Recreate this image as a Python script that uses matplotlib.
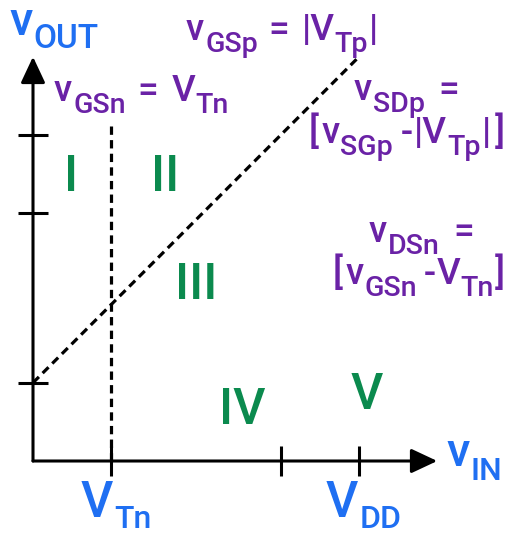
import matplotlib
matplotlib.use("Agg")
import matplotlib.pyplot as plt
from matplotlib.transforms import IdentityTransform

# ---- data (conceptual voltages) ----
VTn = 1.2
VTp = 1.2
VDD = 5.0
x_ticks = [VTn, 3.8, VDD]
y_ticks = [VTp, 3.8, VDD]
axis_end = 6.2
vline_top = 5.2
diag_x = [0.0, VDD]
diag_y = [VTp, VDD + VTp]
regions = ["I", "II", "III", "IV", "V"]

BLUE = "#1f6ff2"
PURPLE = "#6a22a6"
GREEN = "#0b8a4e"
FONT = "Roboto"

W, H = 506, 533
fig = plt.figure(figsize=(W / 100, H / 100), dpi=100)
ax = fig.add_axes([0, 0, 1, 1])
ox, oy, s = 33, 461, 65.2
ax.set_xlim(-ox / s, (W - ox) / s)
ax.set_ylim(-(H - oy) / s, oy / s)
ax.axis("off")
plt.rcParams["lines.scale_dashes"] = False

lw = 2.2
# axes with arrows
for end in [(axis_end, 0), (0, axis_end)]:
    ax.annotate("", xy=end, xytext=(0, 0),
                arrowprops=dict(arrowstyle="-|>,head_length=1.6,head_width=0.75",
                                lw=lw, color="black", shrinkA=0, shrinkB=0,
                                mutation_scale=10))
tl = 0.23
ax.vlines(x_ticks, -tl, tl, color="black", lw=lw)
ax.hlines(y_ticks, -tl, tl, color="black", lw=lw)

# dashed lines
ax.plot([VTn, VTn], [0, vline_top], color="black", lw=2.3, dashes=(6, 3.8))
ax.plot(diag_x, diag_y, color="black", lw=2.3, dashes=(6, 3.8))

renderer = fig.canvas.get_renderer()


def rich(x, y, parts, color, weight="medium"):
    cx = x
    for txt, size, dy, gap in parts:
        cx += gap
        t = fig.text(cx, H - (y + dy), txt, transform=IdentityTransform(),
                     fontsize=size, color=color, va="baseline", ha="left",
                     family=FONT, fontweight=weight)
        cx += t.get_window_extent(renderer).width


M, S, D = 26.5, 20.5, 12  # purple main size, sub size, sub drop

rich(9, 35, [("v", 34, 0, 0), ("OUT", 24, 13, 1)], BLUE)
rich(446, 466, [("v", 34, 0, 0), ("IN", 23, 14, 1)], BLUE)
rich(81, 517, [("V", 36, 0, 0), ("Tn", 23, 11, 1)], BLUE)
rich(326, 517, [("V", 36, 0, 0), ("DD", 23, 11, 1)], BLUE)

rich(186, 40, [("v", M, 0, 0), ("GSp", S, D, 1), ("=", M, 0, 10), ("|V", M, 0, 13),
               ("Tp", S, D, 0), ("|", M, 0, 1)], PURPLE)
rich(54, 101, [("v", M, 0, 0), ("GSn", S, D, 1), ("=", M, 0, 11), ("V", M, 0, 14),
               ("Tn", S, D, 0)], PURPLE)
rich(354, 100, [("v", M, 0, 0), ("SDp", S, D, 1), ("=", M, 0, 13)], PURPLE)
rich(309, 143, [("[", M, 0, 0), ("v", M, 0, 2), ("SGp", S, D, 1), ("-", M, 0, 8),
                ("|V", M, 0, 1), ("Tp", S, D, 0), ("|", M, 0, 1), ("]", M, 0, 4)], PURPLE)
rich(369, 242, [("v", M, 0, 0), ("DSn", S, D, 1), ("=", M, 0, 13)], PURPLE)
rich(333, 284, [("[", M, 0, 0), ("v", M, 0, 2), ("GSn", S, D, 1), ("-", M, 0, 7),
                ("V", M, 0, 1), ("Tn", S, D, 0), ("]", M, 0, 1)], PURPLE)

# region numerals (pixel centres, baselines)
reg_pos = [(71, 191), (165, 191), (196, 299), (242, 424), (367, 409)]
for lab, (px, py) in zip(regions, reg_pos):
    fig.text(px, H - py, lab, transform=IdentityTransform(), fontsize=36,
             color=GREEN, ha="center", va="baseline", family=FONT,
             fontweight="medium")

fig.savefig("out.png", dpi=100)
